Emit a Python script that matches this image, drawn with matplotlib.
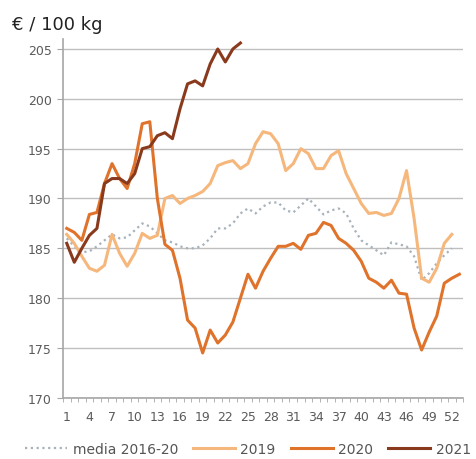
import matplotlib.pyplot as plt

# weekly prices, euro per 100 kg
weeks = list(range(1, 54))
tick_weeks = list(range(1, 53, 3))
y_ticks = [170, 175, 180, 185, 190, 195, 200, 205]

media = [186.0, 185.2, 184.6, 184.7, 185.2, 185.8, 186.4, 186.0, 186.1, 186.8,
         187.5, 187.2, 186.5, 185.8, 185.6, 185.2, 185.0, 185.0, 185.3, 186.0,
         187.0, 187.0, 187.5, 188.5, 189.0, 188.5, 189.2, 189.6, 189.6, 188.8,
         188.6, 189.3, 190.0, 189.2, 188.4, 188.8, 189.0, 188.5, 187.0, 185.8,
         185.3, 184.8, 184.3, 185.6, 185.4, 185.2, 184.2, 181.8, 182.5, 183.5,
         184.3, 185.0]

y2019 = [186.4, 185.5, 184.2, 183.0, 182.7, 183.3, 186.4, 184.5, 183.2, 184.5,
         186.5, 186.0, 186.3, 190.0, 190.3, 189.5, 190.0, 190.3, 190.7, 191.5,
         193.3, 193.6, 193.8, 193.0, 193.5, 195.5, 196.7, 196.5, 195.5, 192.8,
         193.5, 195.0, 194.5, 193.0, 193.0, 194.3, 194.8, 192.5, 191.0, 189.5,
         188.5, 188.6, 188.3, 188.5, 190.0, 192.8, 188.0, 182.0, 181.6, 183.0,
         185.5, 186.4]

y2020 = [187.0, 186.6, 185.8, 188.4, 188.6, 191.5, 193.5, 192.0, 191.0, 193.5,
         197.5, 197.7, 190.0, 185.4, 184.8, 182.0, 177.8, 177.0, 174.5, 176.8,
         175.5, 176.3, 177.6, 180.0, 182.4, 181.0, 182.7, 184.0, 185.2, 185.2,
         185.5, 184.9, 186.3, 186.5, 187.6, 187.3, 186.0, 185.5, 184.8, 183.7,
         182.0, 181.6, 181.0, 181.8, 180.5, 180.4, 177.0, 174.8, 176.6, 178.2,
         181.5, 182.0, 182.4]

y2021 = [185.5, 183.6, 185.0, 186.3, 187.0, 191.5, 192.0, 192.0, 191.5, 192.5,
         195.0, 195.2, 196.3, 196.6, 196.0, 199.0, 201.5, 201.8, 201.3, 203.5,
         205.0, 203.7, 205.0, 205.6]

fig = plt.figure(figsize=(4.77, 4.60), dpi=100)
ax = fig.add_axes([0.132, 0.133, 0.839, 0.780])

grey = '#a6a6a6'
ax.plot(weeks[:len(media)], media, color='#a7b2bb', lw=1.6,
        linestyle=(0, (1, 1.6)), label='media 2016-20')
ax.plot(weeks[:len(y2019)], y2019, color='#f6b77c', lw=2.2,
        solid_joinstyle='round', label='2019')
ax.plot(weeks[:len(y2020)], y2020, color='#e0732b', lw=2.2,
        solid_joinstyle='round', label='2020')
ax.plot(weeks[:len(y2021)], y2021, color='#8a3a1c', lw=2.2,
        solid_joinstyle='round', label='2021')

ax.set_xlim(0.5, 53.5)
ax.set_ylim(170, 206)
ax.set_yticks(y_ticks)
ax.set_xticks(tick_weeks)
ax.set_xticks([w + 0.5 for w in range(0, 54)], minor=True)
ax.tick_params(axis='x', which='major', length=0, pad=9)
ax.tick_params(axis='x', which='minor', length=3, color=grey, direction='out')
ax.tick_params(axis='y', length=4, color=grey, pad=4)
ax.tick_params(labelsize=9, labelcolor='#5a5a5a')

ax.grid(axis='y', color='#bfbfbf', lw=1)
ax.set_axisbelow(True)
for side in ['top', 'right']:
    ax.spines[side].set_visible(False)
for side in ['left', 'bottom']:
    ax.spines[side].set_color(grey)
    ax.spines[side].set_linewidth(1.2)

fig.text(0.025, 0.935, '€ / 100 kg', fontsize=13, color='#222222')

leg = fig.legend(loc='lower center', bbox_to_anchor=(0.52, -0.02), ncol=4,
                 frameon=False, fontsize=10, handlelength=3.0,
                 handletextpad=0.4, columnspacing=1.1)
for t in leg.get_texts():
    t.set_color('#555555')

fig.savefig('out.png', dpi=100)
